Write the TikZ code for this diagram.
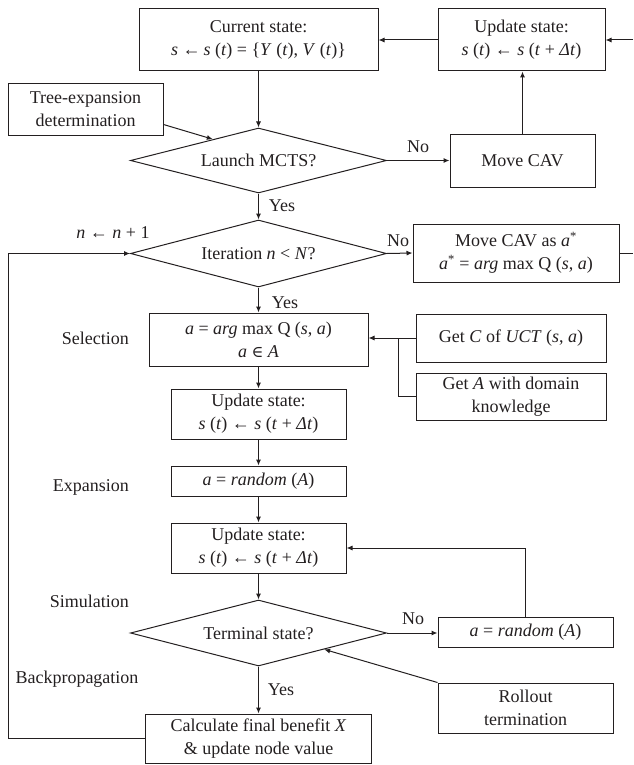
\documentclass[tikz,border=0pt]{standalone}
\usepackage{fontspec}
\setmainfont{Liberation Serif}
\newfontfamily\symf{DejaVu Serif}
\usetikzlibrary{arrows.meta,shapes.geometric}
\definecolor{ink}{RGB}{35,31,32}
\begin{document}
\begin{tikzpicture}[x=1pt,y=-1pt,
  every node/.style={text=ink, font=\fontsize{18}{23}\selectfont},
  box/.style={draw=ink, line width=1pt, inner sep=0pt, align=center},
  dec/.style={draw=ink, line width=1pt, diamond, aspect=3.9, inner sep=0pt, minimum width=256pt},
  conn/.style={draw=ink, line width=1pt},
  arr/.style={conn, -{Latex[length=6pt,width=5pt]}},
  lbl/.style={inner sep=0pt}
]
\path[use as bounding box] (0,0) rectangle (633,765);

% nodes
\node[box, minimum width=239pt, minimum height=62pt] (cur) at (258.5,40)
  {Current state:\\ \textit{s} ←\,\textit{s} (\textit{t}) = \{\textit{Y} (\textit{t}), \textit{V} (\textit{t})\}};
\node[box, minimum width=167pt, minimum height=62pt] (upd0) at (521.5,40)
  {Update state:\\ \textit{s} (\textit{t}) ← \textit{s} (\textit{t} + \textit{Δt})};
\node[box, minimum width=155pt, minimum height=51pt] (tree) at (85.5,109.5)
  {Tree-expansion\\ determination};
\node[dec, minimum height=65pt] (launch) at (258.5,160.5) {Launch MCTS?};
\node[box, minimum width=145pt, minimum height=53pt] (movecav) at (522.5,160.5) {Move CAV};
\node[dec, minimum height=67pt] (iter) at (258.5,253.5) {Iteration \textit{n} < \textit{N}?};
\node[box, minimum width=206pt, minimum height=58pt] (movea) at (516,253)
  {Move CAV as \textit{a}\textsuperscript{*}\\ \textit{a}\textsuperscript{*} = \textit{arg} max Q (\textit{s}, \textit{a})};
\node[box, minimum width=219pt, minimum height=53pt] (sel) at (258.5,339.5)
  {\textit{a} = \textit{arg} max Q (\textit{s}, \textit{a})\\ \textit{a} {\symf\fontsize{16}{23}\selectfont ∈} \textit{A}};
\node[box, minimum width=190pt, minimum height=48pt] (getc) at (511,338)
  {Get \textit{C} of \textit{UCT} (\textit{s}, \textit{a})};
\node[box, minimum width=190pt, minimum height=47pt] (geta) at (511,396.5)
  {Get \textit{A} with domain\\ knowledge};
\node[box, minimum width=175pt, minimum height=50pt] (upd2) at (258.5,414)
  {Update state:\\ \textit{s} (\textit{t}) ← \textit{s} (\textit{t} + \textit{Δt})};
\node[box, minimum width=175pt, minimum height=30pt] (expa) at (258.5,481)
  {\textit{a} = \textit{random} (\textit{A})};
\node[box, minimum width=175pt, minimum height=50pt] (upd3) at (258.5,548)
  {Update state:\\ \textit{s} (\textit{t}) ← \textit{s} (\textit{t} + \textit{Δt})};
\node[dec, minimum height=66pt] (term) at (258.5,633) {Terminal state?};
\node[box, minimum width=175pt, minimum height=30pt] (rand) at (525.5,632)
  {\textit{a} = \textit{random} (\textit{A})};
\node[box, minimum width=175pt, minimum height=50pt] (roll) at (525.5,708)
  {Rollout\\ termination};
\node[box, minimum width=226pt, minimum height=49pt] (calc) at (258.5,738.5)
  {Calculate final benefit \textit{X}\\ \& update node value};

% labels
\node[lbl] (no1) at (418,147) {No};
\node[lbl] (yes1) at (282,206) {Yes};
\node[lbl] (no2) at (398,241) {No};
\node[lbl] (yes2) at (285,303) {Yes};
\node[lbl] (no3) at (413,619) {No};
\node[lbl] (yes3) at (281,690) {Yes};
\node[lbl] (ninc) at (113,233) {\textit{n} ← \textit{n} + 1};
\node[lbl, anchor=east] (lsel) at (129,338) {Selection};
\node[lbl, anchor=east] (lexp) at (129,487) {Expansion};
\node[lbl, anchor=east] (lsim) at (129,601) {Simulation};
\node[lbl] (lback) at (77,679) {Backpropagation};

% free ends and junctions
\coordinate (inR) at (633,40);
\coordinate (outR) at (633,253);
\coordinate (jn) at (398,338);
\coordinate (loopc) at (8,738.5);

% connectors
\draw[arr] (inR) -- (upd0.east);
\draw[arr] (upd0.west) -- (cur.east);
\draw[arr] (cur.south) -- (launch.north);
\draw[arr] ([yshift=-15pt]tree.east) -- (launch.155);
\draw[arr] (launch.east) -- (movecav.west);
\draw[arr] (movecav.north) -- (upd0.south -| movecav.north);
\draw[arr] (launch.south) -- (iter.north);
\draw[arr] (iter.east) -- (movea.west);
\draw[conn] (movea.east) -- (outR);
\draw[arr] (iter.south) -- (sel.north);
\draw[arr] (getc.west) -- (sel.east |- getc.west);
\draw[conn] (geta.west) -| (jn);
\draw[arr] (sel.south) -- (upd2.north);
\draw[arr] (upd2.south) -- (expa.north);
\draw[arr] (expa.south) -- (upd3.north);
\draw[arr] (upd3.south) -- (term.north);
\draw[arr] (term.east) -- (term.east -| rand.west);
\draw[arr] (rand.north) |- (upd3.east);
\draw[arr] (roll.north west) -- (term.-14);
\draw[arr] (term.south) -- (calc.north);
\draw[arr] (calc.west) -- (loopc) |- (iter.west);
\end{tikzpicture}
\end{document}
